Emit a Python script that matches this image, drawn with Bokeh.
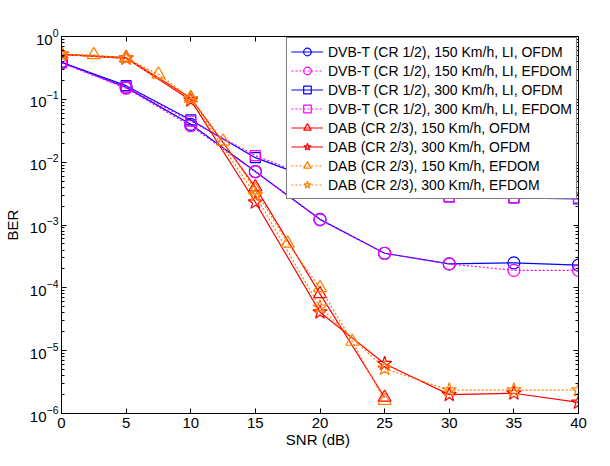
from bokeh.plotting import figure
from bokeh.models import (LinearAxis, LogAxis, FixedTicker, LogTicker, Legend, LegendItem,
                          CustomJSTickFormatter, Range1d)
from bokeh.embed import file_html
from bokeh.resources import INLINE

# ---- data ----
snr = [0, 5, 10, 15, 20, 25, 30, 35, 40]
dvb150_ofdm = [0.39, 0.155, 0.040, 0.0071, 0.00123, 3.55e-4, 2.4e-4, 2.5e-4, 2.3e-4]
dvb150_efdom = [0.38, 0.150, 0.038, 0.0070, 0.00121, 3.55e-4, 2.4e-4, 1.9e-4, 1.9e-4]
dvb300_ofdm = [0.39, 0.165, 0.047, 0.0118, 0.0049, 0.0032, 0.0028, 0.0027, 0.0026]
dvb300_efdom = [0.38, 0.158, 0.045, 0.0127, 0.0051, 0.0033, 0.0028, 0.0027, 0.0027]

snr_dab_tri = [0, 5, 10, 15, 20, 25]
dab150_ofdm = [0.52, 0.46, 0.105, 0.0040, 8.0e-5, 1.8e-6]
dab300_ofdm = [0.52, 0.45, 0.097, 0.0023, 4.1e-5, 6.2e-6, 2.0e-6, 2.1e-6, 1.5e-6]
snr_fine = [0, 2.5, 5, 7.5, 10, 12.5, 15, 17.5, 20, 22.5, 25]
dab150_efdom = [0.52, 0.51, 0.45, 0.25, 0.105, 0.0215, 0.0036, 5.1e-4, 1.0e-4, 1.4e-5, 1.6e-6]
dab300_efdom = [0.52, 0.45, 0.102, 0.0030, 4.9e-5, 5.2e-6, 2.35e-6, 2.35e-6, 2.35e-6]

labels = [
    "DVB-T (CR 1/2), 150 Km/h, LI, OFDM",
    "DVB-T (CR 1/2), 150 Km/h, LI, EFDOM",
    "DVB-T (CR 1/2), 300 Km/h, LI, OFDM",
    "DVB-T (CR 1/2), 300 Km/h, LI, EFDOM",
    "DAB (CR 2/3), 150 Km/h, OFDM",
    "DAB (CR 2/3), 300 Km/h, OFDM",
    "DAB (CR 2/3), 150 Km/h, EFDOM",
    "DAB (CR 2/3), 300 Km/h, EFDOM",
]
x_ticks = [0, 5, 10, 15, 20, 25, 30, 35, 40]

FONT = "Liberation Sans"
BLUE, MAG, RED, ORANGE = "#0000ff", "#ff00ff", "#ff0000", "#ff8000"

p = figure(width=594, height=450, y_axis_type="log",
           x_range=Range1d(0, 40), y_range=Range1d(1e-6, 1),
           output_backend="svg", toolbar_location=None,
           min_border_left=50, min_border_right=16, min_border_top=36, min_border_bottom=30,
           background_fill_color="white", border_fill_color="white")
p.xgrid.visible = False
p.ygrid.visible = False
p.outline_line_color = "black"
p.outline_line_width = 1

def style_axis(ax):
    ax.axis_line_color = "black"
    ax.major_tick_in = 5
    ax.major_tick_out = 0
    ax.major_tick_line_color = "black"
    ax.major_label_text_font = FONT
    ax.major_label_text_font_size = "15px"
    ax.major_label_text_color = "black"
    ax.axis_label_text_font = FONT
    ax.axis_label_text_font_size = "15px"
    ax.axis_label_text_font_style = "normal"
    ax.axis_label_text_color = "black"

xa = p.xaxis[0]
style_axis(xa)
xa.ticker = FixedTicker(ticks=x_ticks)
xa.minor_tick_line_color = None
xa.major_label_standoff = 4
xa.axis_label = "SNR  (dB)"
xa.axis_label_standoff = 0

ya = p.yaxis[0]
style_axis(ya)
ya.ticker = LogTicker(num_minor_ticks=10)
ya.minor_tick_in = 3
ya.minor_tick_out = 0
ya.minor_tick_line_color = "black"
ya.major_label_standoff = 3
ya.axis_label = "BER"
ya.axis_label_standoff = 6

blank = CustomJSTickFormatter(code="return ''")
top = LinearAxis(ticker=FixedTicker(ticks=x_ticks), formatter=blank)
style_axis(top)
top.minor_tick_line_color = None
top.major_label_standoff = 0
top.axis_label_standoff = 0
p.add_layout(top, "above")

right = LogAxis(ticker=LogTicker(num_minor_ticks=10), formatter=blank)
style_axis(right)
right.minor_tick_in = 3
right.minor_tick_out = 0
right.minor_tick_line_color = "black"
right.major_label_standoff = 0
right.axis_label_standoff = 0
p.add_layout(right, "right")

series = [
    (snr, dvb150_ofdm, BLUE, "solid", "circle", 12),
    (snr, dvb150_efdom, MAG, "2 2", "circle", 12),
    (snr, dvb300_ofdm, BLUE, "solid", "square", 10),
    (snr, dvb300_efdom, MAG, "2 2", "square", 10),
    (snr_dab_tri, dab150_ofdm, RED, "solid", "triangle", 13),
    (snr, dab300_ofdm, RED, "solid", "star", 15),
    (snr_fine, dab150_efdom, ORANGE, "2 2", "triangle", 13),
    (snr, dab300_efdom, ORANGE, "2 2", "star", 15),
]

items = []
for (xs, ys, col, dash, mk, sz), lab in zip(series, labels):
    lr = p.line(xs, ys, line_color=col, line_width=1.2, line_dash=dash)
    sr = p.scatter(xs, ys, marker=mk, size=sz, line_color=col, fill_color=None, line_width=1.2)
    items.append(LegendItem(label=lab, renderers=[lr, sr]))

legend = Legend(items=items, location="top_right",
                label_text_font=FONT, label_text_font_size="14px", label_text_color="black",
                glyph_width=32, glyph_height=19, label_height=19, label_standoff=5,
                spacing=0, padding=4, margin=1,
                border_line_color="black", border_line_width=1,
                background_fill_color="white", background_fill_alpha=1)
p.add_layout(legend, "center")

open("out.html", "w").write(file_html(p, INLINE))
